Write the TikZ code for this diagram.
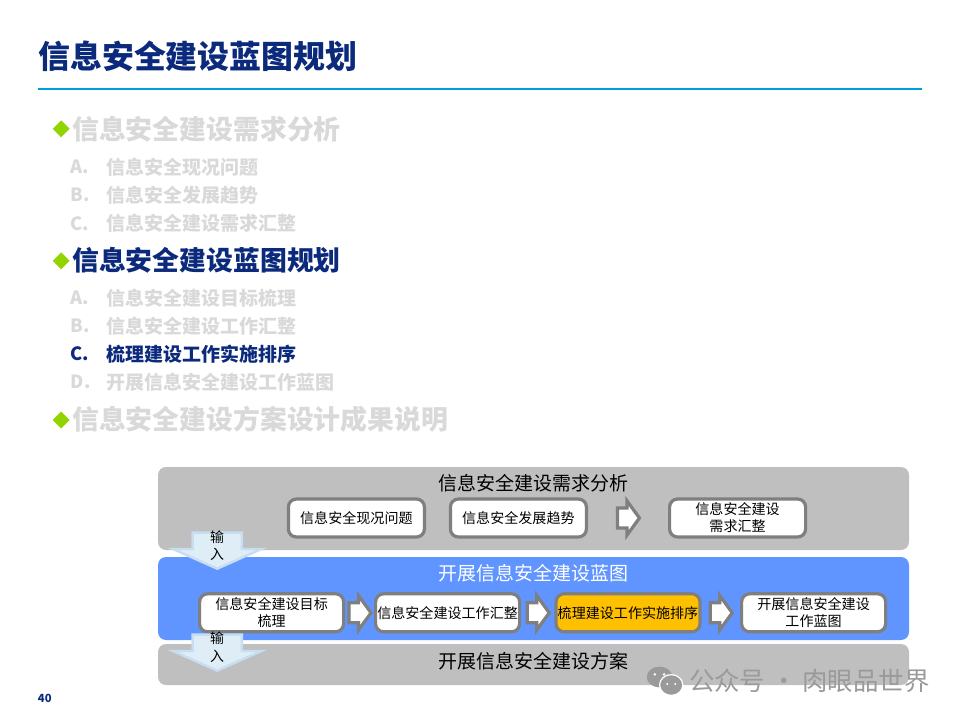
\documentclass[tikz,border=0pt]{standalone}
\usepackage{fontspec}
\setmainfont{Noto Sans CJK SC}
\usetikzlibrary{calc,shapes.geometric,shapes.arrows}

\definecolor{navy}{HTML}{0B2A7C}
\definecolor{rulecol}{HTML}{009FDA}
\definecolor{fadecol}{HTML}{D9D9D9}
\definecolor{leafcol}{HTML}{92D400}
\definecolor{bandgray}{HTML}{BFBFBF}
\definecolor{bandblue}{HTML}{6095FF}
\definecolor{edgegray}{HTML}{7F7F7F}
\definecolor{ordercol}{HTML}{FFC000}
\definecolor{inputfill}{HTML}{DFEEF6}
\definecolor{inputedge}{HTML}{C7DDF1}
\definecolor{markcol}{HTML}{9A9A9A}

\tikzset{
  headline/.style={anchor=west, inner sep=0pt, font=\fontsize{19.1}{19.1}\selectfont\bfseries},
  subletter/.style={anchor=west, inner sep=0pt, font=\fontsize{13}{13}\selectfont\bfseries},
  subline/.style={anchor=west, inner sep=0pt, font=\fontsize{13.5}{13.5}\selectfont\bfseries},
  leaf/.style={diamond, fill=leafcol, inner sep=0pt, minimum size=0.43cm},
  bandtitle/.style={inner sep=0pt, font=\fontsize{13.5}{13.5}\selectfont},
  band/.style={rounded corners=0.2cm},
  workbox/.style={draw=edgegray, line width=0.08cm, fill=white, rounded corners=0.2cm,
    inner sep=0pt, align=center, font=\fontsize{10}{12}\selectfont},
  stepshape/.style={single arrow, draw=edgegray, line width=0.08cm, fill=white,
    inner xsep=0pt, inner ysep=0.21cm, minimum height=0.55cm, minimum width=0.78cm,
    single arrow head extend=0.18cm, single arrow tip angle=108, xshift=-0.08cm},
  inputshape/.style={single arrow, rotate=-90, draw=inputedge, line width=0.06cm,
    fill=inputfill, inner xsep=0pt, inner ysep=0.585cm, minimum height=0.9cm, minimum width=2.15cm,
    single arrow head extend=0.49cm, single arrow tip angle=132, anchor=tip},
  inputtext/.style={inner sep=0pt, align=center, font=\fontsize{9.9}{12.7}\selectfont}
}

\begin{document}
\begin{tikzpicture}
     \useasboundingbox (0,0) rectangle (24,18);

     % title
     \node[anchor=west, inner sep=0pt, text=navy, font=\fontsize{22.7}{22.7}\selectfont\bfseries] (title) at (0.95,16.6) {信息安全建设蓝图规划};
     \fill[rulecol] (0.95,15.75) rectangle (23.05,15.8);

     % first group
     \node[leaf] (leafA) at (1.53,14.78) {};
     \node[headline, text=fadecol] (headA) at (1.8,14.78) {信息安全建设需求分析};
     \node[subletter, text=fadecol] (letterAa) at (1.76,13.82) {A.};
     \node[subline, text=fadecol] (lineAa) at (2.65,13.82) {信息安全现况问题};
     \node[subletter, text=fadecol] (letterAb) at (1.76,13.12) {B.};
     \node[subline, text=fadecol] (lineAb) at (2.65,13.12) {信息安全发展趋势};
     \node[subletter, text=fadecol] (letterAc) at (1.76,12.42) {C.};
     \node[subline, text=fadecol] (lineAc) at (2.65,12.42) {信息安全建设需求汇整};

     % second group
     \node[leaf] (leafB) at (1.53,11.48) {};
     \node[headline, text=navy] (headB) at (1.8,11.5) {信息安全建设蓝图规划};
     \node[subletter, text=fadecol] (letterBa) at (1.76,10.55) {A.};
     \node[subline, text=fadecol] (lineBa) at (2.65,10.55) {信息安全建设目标梳理};
     \node[subletter, text=fadecol] (letterBb) at (1.76,9.85) {B.};
     \node[subline, text=fadecol] (lineBb) at (2.65,9.85) {信息安全建设工作汇整};
     \node[subletter, text=navy] (letterBc) at (1.76,9.15) {C.};
     \node[subline, text=navy] (lineBc) at (2.65,9.15) {梳理建设工作实施排序};
     \node[subletter, text=fadecol] (letterBd) at (1.76,8.45) {D.};
     \node[subline, text=fadecol] (lineBd) at (2.65,8.45) {开展信息安全建设工作蓝图};

     % third group
     \node[leaf] (leafC) at (1.53,7.5) {};
     \node[headline, text=fadecol] (headC) at (1.8,7.52) {信息安全建设方案设计成果说明};

     % bands
     \fill[band, bandgray] (3.95,4.25) rectangle (22.725,6.325);
     \fill[band, bandblue] (3.95,2) rectangle (22.725,4.075);
     \fill[band, bandgray] (3.95,0.875) rectangle (22.725,1.9);

     \node[bandtitle] (needTitle) at (13.33,5.92) {信息安全建设需求分析};
     \node[bandtitle, text=white] (mapTitle) at (13.33,3.68) {开展信息安全建设蓝图};
     \node[bandtitle] (planTitle) at (13.33,1.47) {开展信息安全建设方案};

     % need row
     \node[workbox, minimum width=3.4cm, minimum height=0.95cm] (status) at (8.91,5.05) {信息安全现况问题};
     \node[workbox, minimum width=3.4cm, minimum height=0.95cm] (trend) at (12.96,5.05) {信息安全发展趋势};
     \node[workbox, minimum width=3.4cm, minimum height=0.95cm] (needSum) at (18.44,5.05) {信息安全建设\\需求汇整};
     \node[stepshape] (stepNeed) at ($(trend.east)!0.5!(needSum.west)$) {};

     % map row
     \node[workbox, minimum width=3.6cm, minimum height=0.95cm] (goal) at (6.79,2.68) {信息安全建设目标\\梳理};
     \node[workbox, minimum width=3.6cm, minimum height=0.95cm] (work) at (11.19,2.68) {信息安全建设工作汇整};
     \node[workbox, minimum width=3.6cm, minimum height=0.95cm, fill=ordercol] (order) at (15.7,2.68) {梳理建设工作实施排序};
     \node[workbox, minimum width=3.6cm, minimum height=0.95cm] (chart) at (20.34,2.68) {开展信息安全建设\\工作蓝图};
     \node[stepshape] (stepGoal) at ($(goal.east)!0.5!(work.west)$) {};
     \node[stepshape] (stepWork) at ($(work.east)!0.5!(order.west)$) {};
     \node[stepshape] (stepOrder) at ($(order.east)!0.5!(chart.west)$) {};

     % input arrows
     \node[inputshape] (inputTop) at (5.43,3.75) {};
     \node[inputtext] (inputTopText) at (5.43,4.36) {输\\入};
     \node[inputshape] (inputLow) at (5.43,1.2) {};
     \node[inputtext] (inputLowText) at (5.43,1.82) {输\\入};

     % page number
     \node[inner sep=0pt, text=navy, font=\fontsize{8}{8}\selectfont\bfseries] (page) at (1.12,0.55) {40};

     % mark
     \fill[markcol] (16.49,1.075) ellipse (0.32 and 0.26);
     \fill[markcol, draw=white, line width=0.03cm] (16.78,0.875) ellipse (0.29 and 0.26);
     \fill[white] (16.37,1.14) circle (0.035) (16.6,1.14) circle (0.035);
     \fill[white] (16.68,0.9) circle (0.03) (16.88,0.9) circle (0.03);
     \node[anchor=west, inner sep=0pt, text=markcol, font=\fontsize{18.1}{18.1}\selectfont] (mark) at (17.22,0.97) {公众号 · 肉眼品世界};

\end{tikzpicture}
\end{document}
